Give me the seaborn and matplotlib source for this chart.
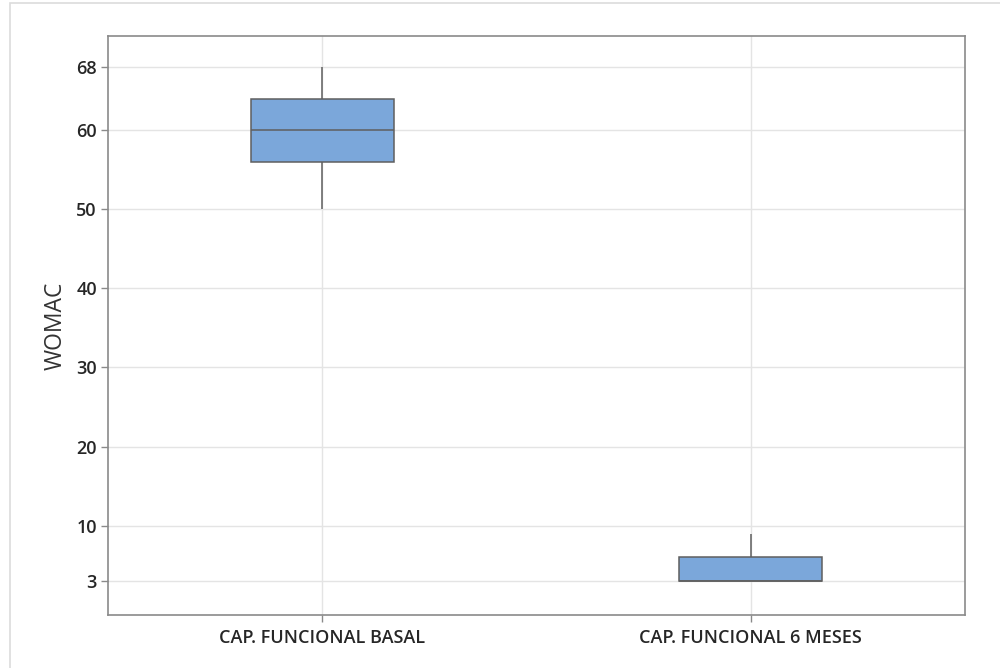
import matplotlib
matplotlib.use("Agg")
import matplotlib.pyplot as plt
import seaborn as sns
import pandas as pd
from matplotlib.patches import Rectangle

# Five-number summaries (min, Q1, median, Q3, max) of the WOMAC scores
groups = ["CAP. FUNCIONAL BASAL", "CAP. FUNCIONAL 6 MESES"]
basal_scores = [50, 56, 60, 64, 68]
six_month_scores = [3, 3, 3, 6, 9]
y_ticks = [3, 10, 20, 30, 40, 50, 60, 68]

df = pd.DataFrame({
    "grupo": [groups[0]] * len(basal_scores) + [groups[1]] * len(six_month_scores),
    "WOMAC": basal_scores + six_month_scores,
})

sns.set_theme(style="white")
plt.rcParams["font.family"] = ["Open Sans", "DejaVu Sans"]

fig = plt.figure(figsize=(10, 6.68), dpi=100)
ax = fig.add_axes([0.108, 0.0793, 0.857, 0.8667])

edge = "#5f5f5f"
sns.boxplot(
    data=df, x="grupo", y="WOMAC", order=groups, ax=ax,
    width=0.333, color="#7BA7DA", saturation=1, linecolor=edge,
    linewidth=1.1, showcaps=False, showfliers=False,
)

ax.set_ylim(-1.3, 71.9)
ax.set_xlim(-0.5, 1.5)
ax.set_yticks(y_ticks)
ax.set_yticklabels([str(v) for v in y_ticks])
ax.set_axisbelow(True)
ax.grid(True, color="#e4e4e4", linewidth=1.0)

ax.set_xlabel("")
ax.set_ylabel("WOMAC", fontsize=16.5, color="#333333")
ax.yaxis.set_label_coords(-0.047, 0.5)

for s in ax.spines.values():
    s.set_color("#8a8a8a")
    s.set_linewidth(1.2)

ax.tick_params(axis="both", which="both", direction="out", length=5,
               width=1, color="#8a8a8a", labelsize=13, labelcolor="#262626",
               left=True, bottom=True)
for lab in ax.get_xticklabels() + ax.get_yticklabels():
    lab.set_fontweight("semibold")
ax.tick_params(axis="x", pad=5)
ax.tick_params(axis="y", pad=3)

# thin outer frame of the graph window
fig.patches.append(Rectangle((0.0095, -0.05), 1.2, 1.05 - 3.5 / 668,
                             transform=fig.transFigure, fill=False,
                             edgecolor="#dcdcdc", linewidth=1.2))

fig.savefig("out.png", dpi=100)
